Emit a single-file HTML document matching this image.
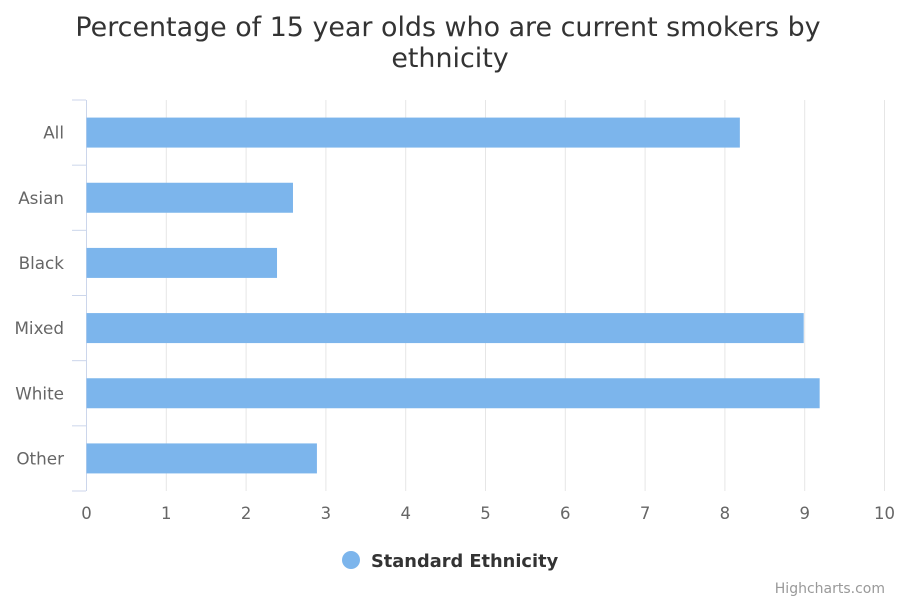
<!DOCTYPE html>
<html><head><meta charset="utf-8"><style>
body{margin:0;background:#fff;}
svg{display:block;font-family:"DejaVu Sans","Liberation Sans",sans-serif;}
</style></head><body>
<svg id="chart" width="900" height="600">
<rect width="900" height="600" fill="#fff"/>
<text x="448" y="36" text-anchor="middle" font-size="26.9" fill="#333">Percentage of 15 year olds who are current smokers by</text>
<text x="450" y="67" text-anchor="middle" font-size="26.9" fill="#333">ethnicity</text>
<g id="grid"></g><g id="bars"></g><g id="xlabels"></g><g id="ylabels"></g>
<g>
<circle cx="351" cy="560" r="9" fill="#7cb5ec"/>
<text x="371" y="567" font-size="17.8" font-weight="bold" fill="#333">Standard Ethnicity</text>
</g>
<text x="885" y="593" text-anchor="end" font-size="14" fill="#999">Highcharts.com</text>
</svg>
<script>
const categories=["All","Asian","Black","Mixed","White","Other"];
const values=[8.2,2.6,2.4,9.0,9.2,2.9];
const xTicks=[0,1,2,3,4,5,6,7,8,9,10];
const NS="http://www.w3.org/2000/svg";
const x0=86.5,x1=884.5,yTop=100,yBot=491;
const xs=v=>x0+(v-0)/(10-0)*(x1-x0);
const band=(yBot-yTop)/categories.length;
function mk(tag,attrs,parent,text){const e=document.createElementNS(NS,tag);for(const k in attrs)e.setAttribute(k,attrs[k]);if(text!==undefined)e.textContent=text;document.getElementById(parent).appendChild(e);return e;}
xTicks.forEach(t=>{
 const g=mk("line",{x1:xs(t),x2:xs(t),y1:yTop,y2:yBot,stroke:t===0?"#ccd6eb":"#e6e6e6","stroke-width":1},"grid");
 
 
 const l=mk("text",{x:xs(t),y:519,"text-anchor":"middle","font-size":16.5,fill:"#666"},"xlabels",String(t));
 
 
});
for(let i=0;i<=categories.length;i++){
 const y=yTop+i*band;
 const tk=mk("line",{x1:72,x2:86,y1:y,y2:y,stroke:"#ccd6eb","stroke-width":1},"grid");
 
 
}
categories.forEach((c,i)=>{
 const cy=yTop+(i+0.5)*band;
 const b=mk("rect",{x:xs(0),y:cy-15,width:xs(values[i])-xs(0)-1,height:30,fill:"#7cb5ec"},"bars");
 
 
 const l=mk("text",{x:64,y:cy+6,"text-anchor":"end","font-size":16.8,fill:"#666"},"ylabels",c);
 
 
});
</script>
</body></html>
